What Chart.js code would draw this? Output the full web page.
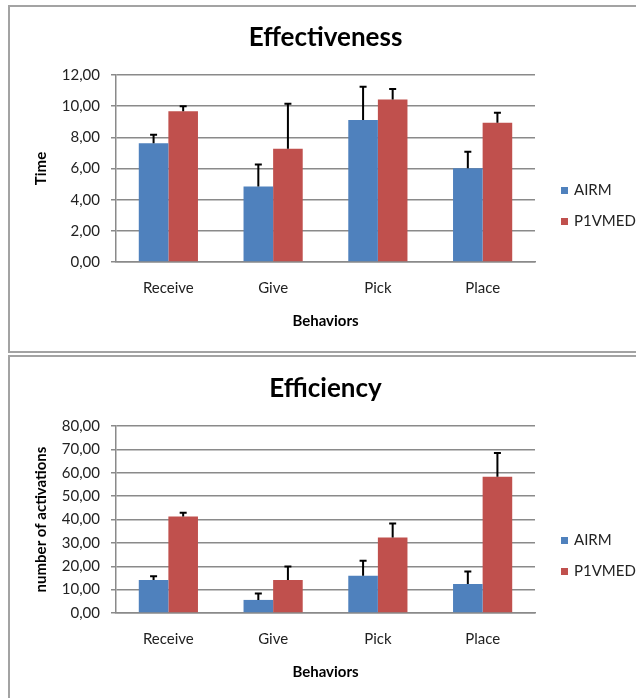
<!DOCTYPE html>
<html>
<head>
  <title>Effectiveness and Efficiency</title>
  <script src="https://cdn.jsdelivr.net/npm/chart.js"></script>
  <style>
    body {
      margin: 0;
      background: #fff;
      font-family: Lato, 'Noto Sans', sans-serif;
      overflow: hidden;
    }
    .page {
      position: relative;
      width: 636px;
      height: 698px;
      overflow: hidden;
    }
    .box {
      position: absolute;
      left: 8px;
      width: 700px;
      border: 2px solid #a3a3a3;
      box-sizing: border-box;
      pointer-events: none;
    }
    .chart {
      position: absolute;
      left: 0;
    }
    .legend {
      position: absolute;
      left: 561px;
      font-size: 15px;
      color: #222;
    }
    .legend .item {
      position: absolute;
      white-space: nowrap;
      height: 16px;
      line-height: 16px;
    }
    .legend .sw {
      display: inline-block;
      width: 7px;
      height: 7px;
      margin-right: 6px;
      vertical-align: 1px;
    }
  </style>
</head>
<body>
<div class="page">
  <div class="box" style="top:5px; height:348px;"></div>
  <div class="box" style="top:355px; height:400px;"></div>

  <div class="chart" style="top:0;"><canvas id="effChart" width="636" height="352"></canvas></div>
  <div class="legend" id="effLegend" style="top:181px;"></div>

  <div class="chart" style="top:356px;"><canvas id="efcChart" width="636" height="342"></canvas></div>
  <div class="legend" id="efcLegend" style="top:531px;"></div>
</div>
<script>
  // ==== Data ====
  const categories = ['Receive', 'Give', 'Pick', 'Place'];
  const seriesNames = ['AIRM', 'P1VMED'];
  const seriesColors = ['#4f81bd', '#c0504d'];

  // Effectiveness (Time)
  const effTicks = [0, 2, 4, 6, 8, 10, 12];
  const effAirm = [7.62, 4.85, 9.12, 6.02];
  const effAirmErr = [0.54, 1.41, 2.13, 1.05];
  const effP1vmed = [9.67, 7.26, 10.42, 8.93];
  const effP1vmedErr = [0.32, 2.90, 0.68, 0.64];

  // Efficiency (number of activations)
  const efcTicks = [0, 10, 20, 30, 40, 50, 60, 70, 80];
  const efcAirm = [14.1, 5.6, 15.9, 12.4];
  const efcAirmErr = [1.6, 2.7, 6.5, 5.4];
  const efcP1vmed = [41.3, 14.1, 32.3, 58.3];
  const efcP1vmedErr = [1.6, 5.8, 6.0, 10.1];

  const FONT = 'Lato, "Noto Sans", sans-serif';
  const GRID = '#8a8a8a';

  // plus-only error bars with a small cap
  const errorBars = {
    id: 'errorBars',
    afterDatasetsDraw(chart) {
      const ctx = chart.ctx;
      const y = chart.scales.y;
      ctx.save();
      ctx.strokeStyle = '#000';
      ctx.lineWidth = 2;
      chart.data.datasets.forEach((ds, i) => {
        chart.getDatasetMeta(i).data.forEach((bar, j) => {
          const top = y.getPixelForValue(ds.data[j] + ds.errors[j]);
          ctx.beginPath();
          ctx.moveTo(bar.x, bar.y);
          ctx.lineTo(bar.x, top);
          ctx.moveTo(bar.x - 3.5, top);
          ctx.lineTo(bar.x + 3.5, top);
          ctx.stroke();
        });
      });
      ctx.restore();
    }
  };

  function makeChart(id, title, yTitle, ticks, airm, airmErr, p1, p1Err, pad) {
    return new Chart(document.getElementById(id), {
      type: 'bar',
      data: {
        labels: categories,
        datasets: [
          { label: seriesNames[0], data: airm, errors: airmErr, backgroundColor: seriesColors[0] },
          { label: seriesNames[1], data: p1, errors: p1Err, backgroundColor: seriesColors[1] }
        ]
      },
      options: {
        responsive: false,
        animation: false,
        layout: { padding: { left: 30, right: 101, top: 0, bottom: pad.bottom } },
        datasets: { bar: { categoryPercentage: 0.565, barPercentage: 1 } },
        plugins: {
          legend: { display: false },
          tooltip: { enabled: false },
          title: {
            display: true,
            text: title,
            fullSize: false,
            color: '#000',
            font: { family: FONT, size: 26, weight: 'bold' },
            padding: { top: pad.titleTop, bottom: pad.titleBottom }
          }
        },
        scales: {
          x: {
            afterFit: s => { s.height = 68; },
            grid: { display: false, drawTicks: false },
            border: { display: true, color: GRID, width: 1.5 },
            ticks: { color: '#222', padding: 17, font: { family: FONT, size: 15 } },
            title: {
              display: true,
              text: 'Behaviors',
              color: '#000',
              font: { family: FONT, size: 15, weight: 'bold' },
              padding: { top: 0, bottom: 0 }
            }
          },
          y: {
            min: ticks[0],
            max: ticks[ticks.length - 1],
            afterFit: s => { s.width = 86; },
            grid: { color: GRID, lineWidth: 1.5, tickLength: 5 },
            border: { display: true, color: GRID, width: 1.5 },
            ticks: {
              stepSize: ticks[1] - ticks[0],
              padding: 11,
              color: '#222',
              font: { family: FONT, size: 15 },
              callback: v => v.toFixed(2).replace('.', ',')
            },
            title: {
              display: true,
              text: yTitle,
              color: '#000',
              font: { family: FONT, size: 15, weight: 'bold' },
              padding: { top: 2, bottom: 0 }
            }
          }
        }
      },
      plugins: [errorBars]
    });
  }

  function makeLegend(id) {
    const el = document.getElementById(id);
    seriesNames.forEach((name, i) => {
      const item = document.createElement('div');
      item.className = 'item';
      item.style.top = (i * 31) + 'px';
      item.innerHTML = '<span class="sw" style="background:' + seriesColors[i] + '"></span>' + name;
      el.appendChild(item);
    });
  }

  makeChart('effChart', 'Effectiveness', 'Time', effTicks,
    effAirm, effAirmErr, effP1vmed, effP1vmedErr,
    { bottom: 22, titleTop: 22.4, titleBottom: 21.4 });
  makeChart('efcChart', 'Efficiency', 'number of activations', efcTicks,
    efcAirm, efcAirmErr, efcP1vmed, efcP1vmedErr,
    { bottom: 17, titleTop: 17.4, titleBottom: 21.4 });

  makeLegend('effLegend');
  makeLegend('efcLegend');
</script>
</body>
</html>
